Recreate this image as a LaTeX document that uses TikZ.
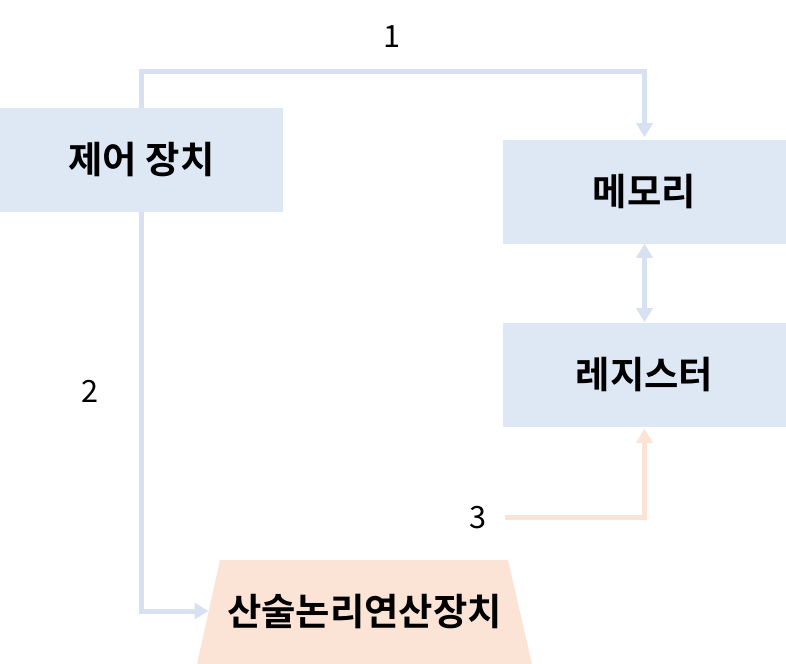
\documentclass[tikz,border=0pt]{standalone}
\usepackage{fontspec}
\setmainfont{Noto Sans CJK KR}[BoldFont={* Bold}]
\usetikzlibrary{arrows.meta}
\definecolor{unitblue}{HTML}{DEE8F5}
\definecolor{wireblue}{HTML}{D7E1F2}
\definecolor{unitpeach}{HTML}{FBE4D6}

\begin{document}
\begin{tikzpicture}[x=0.75pt,y=-0.75pt,
  unit/.style={fill=unitblue,minimum width=212.25pt,minimum height=78pt,
    inner sep=0pt,font=\bfseries\fontsize{28}{33}\selectfont},
  alutext/.style={inner sep=0pt,font=\bfseries\fontsize{28}{33}\selectfont},
  stepnum/.style={font=\fontsize{23}{28}\selectfont,inner sep=0pt},
  wire/.style={line width=3.75pt,draw=wireblue,
    -{Triangle[length=10.5pt,width=12pt]}},
  wire3/.style={wire,draw=unitpeach}
]
\useasboundingbox (0,0) rectangle (786,664);

% units
\node[unit] (ctrl) at (141.5,160) {제어 장치};
\node[unit] (mem) at (644.5,191.5) {메모리};
\node[unit] (reg) at (644.5,374.5) {레지스터};
\fill[unitpeach] (220,560) -- (508,560) -- (532,664) -- (197,664) -- cycle;
\node[alutext] (alu) at (364.5,612) {산술논리연산장치};
\coordinate (aluwest) at (208.5,611);

% step numbers
\node[stepnum] (n1) at (392,37) {1};
\node[stepnum] (n2) at (90,391) {2};
\node[stepnum] (n3) at (478,518) {3};
\coordinate (src3) at (505,517);

% wires
\draw[wire] (ctrl.north) -- ++(0,-36) -| ([yshift=1.5pt]mem.north);
\draw[wire] (ctrl.south) |- (aluwest);
\draw[wire,{Triangle[length=10.5pt,width=12pt]}-{Triangle[length=10.5pt,width=12pt]}]
  (mem.south) -- (reg.north);
\draw[wire3] (src3) -| ([yshift=-1.5pt]reg.south);
\end{tikzpicture}
\end{document}
